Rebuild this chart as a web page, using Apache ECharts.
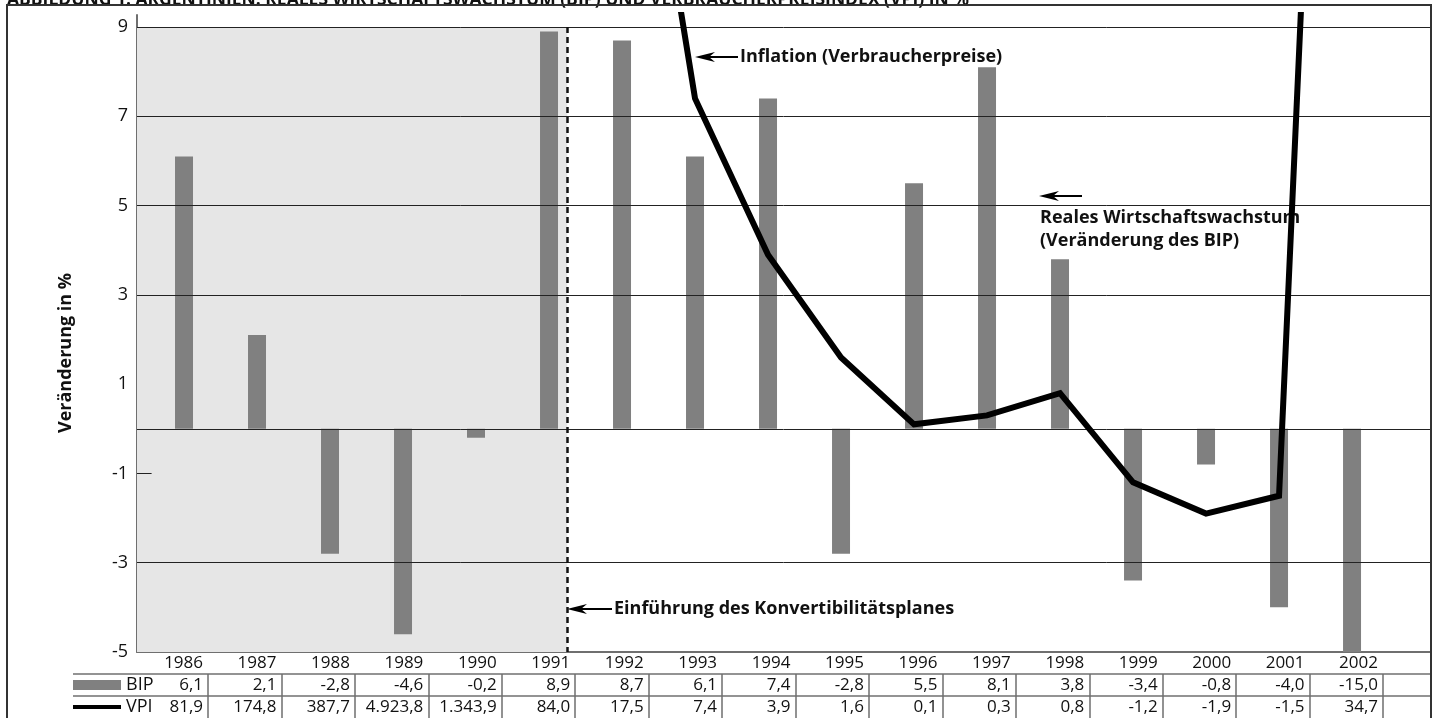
<!DOCTYPE html>
<html lang="de">
<head>
<meta charset="utf-8">
<title>Argentinien: Reales Wirtschaftswachstum und Verbraucherpreisindex</title>
<script src="https://cdn.jsdelivr.net/npm/echarts@6/dist/echarts.min.js"></script>
<style>
  html, body { margin: 0; padding: 0; background: #ffffff; }
  #chart { width: 1436px; height: 718px; }
</style>
</head>
<body>
<div id="chart"></div>
<script>
// Jahre und Werte (Veränderung in %)
const years = [1986, 1987, 1988, 1989, 1990, 1991, 1992, 1993, 1994, 1995, 1996, 1997, 1998, 1999, 2000, 2001, 2002];
const bip = [6.1, 2.1, -2.8, -4.6, -0.2, 8.9, 8.7, 6.1, 7.4, -2.8, 5.5, 8.1, 3.8, -3.4, -0.8, -4.0, -15.0];
const vpi = [81.9, 174.8, 387.7, 4923.8, 1343.9, 84.0, 17.5, 7.4, 3.9, 1.6, 0.1, 0.3, 0.8, -1.2, -1.9, -1.5, 34.7];

// beschriftete Werte und Gitterlinien der y-Achse
const yLabelValues = [-5, -3, -1, 1, 3, 5, 7, 9];
const gridLineValues = [9, 7, 5, 3, 0, -3];
const shortTickValues = [-1];

// Einführung des Konvertibilitätsplanes (April 1991)
const planStart = 1991.25;

const FONT = '"Open Sans", "Noto Sans", sans-serif';
const TEXT = '#111111';
const BAR = '#808080';
const RULE = '#6f6f6f';

// deutsches Zahlenformat: 4.923,8
function fmtDe(v) {
  const parts = Math.abs(v).toFixed(1).split('.');
  const intPart = parts[0].replace(/\B(?=(\d{3})+(?!\d))/g, '.');
  return (v < 0 ? '-' : '') + intPart + ',' + parts[1];
}

// x-Bereich des Diagramms (Jahre)
const X_MIN = 1985.356;
const X_MAX = 2003.068;

const chart = echarts.init(document.getElementById('chart'), null, { renderer: 'canvas' });

// Tabelle unter dem Diagramm: je eine Zeile als Kategorieachse
const tableCats = [''].concat(years.map(String));
const tableRows = [
  { top: 652, text: (i) => String(years[i]) },
  { top: 674, text: (i) => fmtDe(bip[i]) },
  { top: 696, text: (i) => fmtDe(vpi[i]) }
];
const TABLE_LEFT = 134.6;
const TABLE_WIDTH = 1248.4;
const ROW_H = 22;
const TABLE_FONT = 17;

const grids = [{ left: 137, top: 15, width: 1293, height: 637 }];
const xAxes = [{
  type: 'value', gridIndex: 0, min: X_MIN, max: X_MAX,
  axisLine: { show: true, onZero: false, lineStyle: { color: RULE, width: 2 } },
  axisTick: { show: false }, axisLabel: { show: false }, splitLine: { show: false }
}];
const yAxes = [{
  type: 'value', gridIndex: 0, min: -5, max: 9.27, interval: 1,
  axisLine: { show: true, lineStyle: { color: RULE, width: 2 } },
  axisTick: { show: false },
  splitLine: { show: false },
  axisLabel: {
    margin: 9, fontSize: 18, color: TEXT, fontFamily: FONT,
    formatter: (v) => (yLabelValues.indexOf(Math.round(v * 100) / 100) >= 0 ? String(v) : '')
  }
}];

tableRows.forEach((row, r) => {
  const gi = r + 1;
  grids.push({ left: TABLE_LEFT, top: row.top, width: TABLE_WIDTH, height: ROW_H });
  xAxes.push({
    type: 'category', gridIndex: gi, position: 'top', boundaryGap: false,
    data: tableCats,
    axisLine: { show: false },
    axisTick: {
      show: true, inside: true, length: ROW_H,
      interval: (idx) => idx > 0,
      lineStyle: { color: RULE, width: 1.5 }
    },
    axisLabel: {
      inside: true, interval: 0, align: 'right', verticalAlign: 'middle',
      margin: ROW_H / 2, padding: [0, 5, 0, 0],
      fontSize: TABLE_FONT, color: TEXT, fontFamily: FONT,
      formatter: (val, idx) => (idx === 0 ? '' : row.text(idx - 1))
    },
    splitLine: { show: false }
  });
  yAxes.push({ type: 'value', gridIndex: gi, show: false });
});

const gridLineData = gridLineValues.map((v) => ({ yAxis: v }));
const shortTickData = shortTickValues.map((v) => [{ coord: [X_MIN, v] }, { coord: [X_MIN + 0.2, v] }]);
const planLine = [
  { coord: [planStart, 9], lineStyle: { type: [6, 4], width: 2.5, color: '#111' } },
  { coord: [planStart, -5] }
];

const bold = { fontFamily: FONT, fontWeight: 'bold', fontSize: 18, fill: TEXT };

function arrow(xTip, y, len) {
  return {
    type: 'group', silent: true,
    children: [
      { type: 'line', shape: { x1: xTip + 12, y1: y, x2: xTip + len, y2: y }, style: { stroke: '#000', lineWidth: 2 } },
      { type: 'polygon', shape: { points: [[xTip, y], [xTip + 20, y - 5], [xTip + 14, y], [xTip + 20, y + 5]] }, style: { fill: '#000' } }
    ]
  };
}

const legendText = { fontSize: 18, color: TEXT, fontFamily: FONT, lineHeight: 20 };

const option = {
  animation: false,
  backgroundColor: '#ffffff',
  textStyle: { fontFamily: FONT },
  grid: grids,
  xAxis: xAxes,
  yAxis: yAxes,
  legend: [
    {
      data: [{ name: 'BIP', icon: 'rect' }],
      left: 73, top: 675, padding: 0, itemWidth: 48, itemHeight: 10, itemGap: 5,
      selectedMode: false, textStyle: legendText
    },
    {
      data: [{ name: 'VPI', icon: 'rect', itemStyle: { color: '#000' } }],
      left: 73, top: 697, padding: 0, itemWidth: 48, itemHeight: 4, itemGap: 5,
      selectedMode: false, textStyle: legendText
    }
  ],
  series: [
    {
      name: 'BIP', type: 'bar', xAxisIndex: 0, yAxisIndex: 0,
      data: years.map((y, i) => [y, bip[i]]),
      barWidth: 18,
      itemStyle: { color: BAR },
      z: 2,
      markArea: {
        silent: true,
        itemStyle: { color: '#e6e6e6' },
        data: [[{ coord: [X_MIN, 9] }, { coord: [planStart, -5] }]]
      },
      markLine: {
        silent: true, symbol: 'none',
        label: { show: false },
        lineStyle: { color: '#222', width: 1, type: 'solid' },
        data: gridLineData.concat(shortTickData).concat([planLine])
      }
    },
    {
      name: 'VPI', type: 'line', xAxisIndex: 0, yAxisIndex: 0,
      data: years.map((y, i) => [y, vpi[i]]),
      symbol: 'none', clip: true, z: 10,
      lineStyle: { color: '#000', width: 6, join: 'miter', cap: 'butt' }
    }
  ],
  graphic: [
    // Rahmen
    { type: 'rect', silent: true, z: 100, shape: { x: 7, y: 5, width: 1424, height: 720 }, style: { fill: 'none', stroke: '#333', lineWidth: 2 } },
    // Titel
    { type: 'text', silent: true, x: 7, y: 9, style: Object.assign({ text: 'ABBILDUNG 1: ARGENTINIEN: REALES WIRTSCHAFTSWACHSTUM (BIP) UND VERBRAUCHERPREISINDEX (VPI) IN %', verticalAlign: 'bottom' }, bold, { fontSize: 17.5 }) },
    // Achsentitel
    { type: 'text', silent: true, x: 66, y: 353, rotation: Math.PI / 2, style: Object.assign({ text: 'Veränderung in %', align: 'center', verticalAlign: 'middle' }, bold) },
    // Tabellenlinien
    { type: 'line', silent: true, shape: { x1: 73, y1: 674, x2: 1430, y2: 674 }, style: { stroke: RULE, lineWidth: 1.5 } },
    { type: 'line', silent: true, shape: { x1: 73, y1: 696, x2: 1430, y2: 696 }, style: { stroke: RULE, lineWidth: 1.5 } },
    // Beschriftungen
    { type: 'text', silent: true, x: 206, y: 56, style: Object.assign({ text: 'HYPERINFLATIONÄRE PHASE', verticalAlign: 'middle' }, bold) },
    arrow(695, 57, 43),
    { type: 'text', silent: true, x: 740, y: 57, style: Object.assign({ text: 'Inflation (Verbraucherpreise)', verticalAlign: 'middle' }, bold) },
    arrow(1039, 196, 43),
    { type: 'text', silent: true, x: 1040, y: 218, style: Object.assign({ text: 'Reales Wirtschaftswachstum', verticalAlign: 'middle' }, bold) },
    { type: 'text', silent: true, x: 1040, y: 241, style: Object.assign({ text: '(Veränderung des BIP)', verticalAlign: 'middle' }, bold) },
    arrow(567, 609, 45),
    { type: 'text', silent: true, x: 614, y: 609, style: Object.assign({ text: 'Einführung des Konvertibilitätsplanes', verticalAlign: 'middle' }, bold) }
  ]
};

chart.setOption(option);
</script>
</body>
</html>
